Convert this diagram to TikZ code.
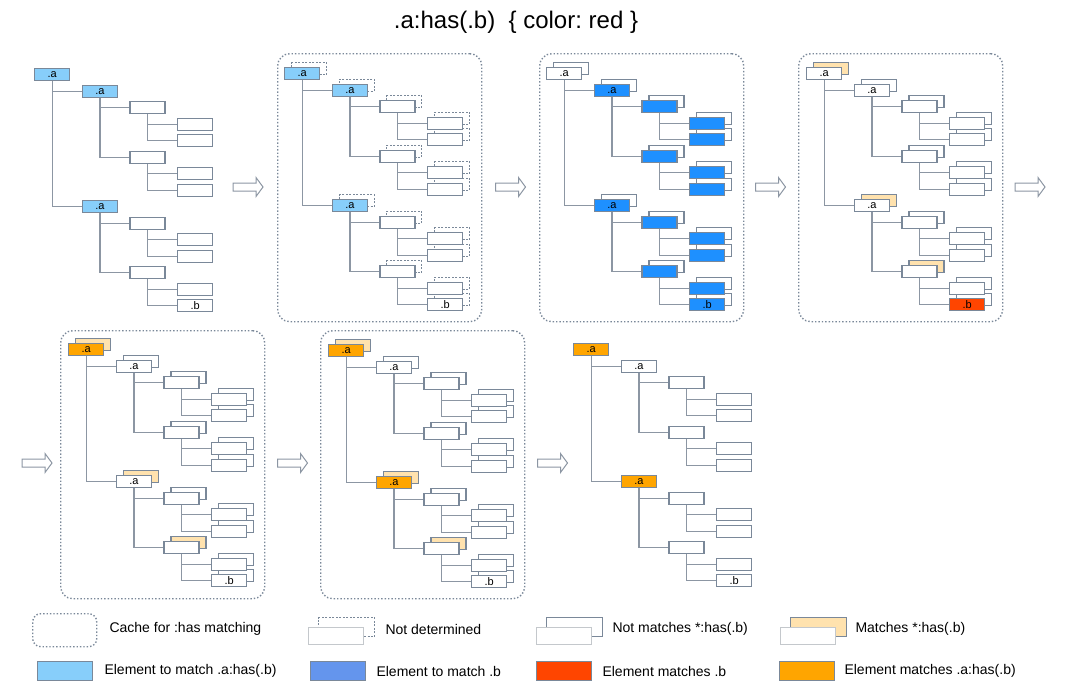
\documentclass[tikz,border=0pt]{standalone}
\usepackage{fontspec}
\setmainfont{Liberation Sans}
\frenchspacing

\definecolor{boxline}{HTML}{7A8899}
\definecolor{lightline}{HTML}{C4C8CC}
\definecolor{linkgray}{HTML}{8C96A3}
\definecolor{skyfill}{HTML}{87CEFA}
\definecolor{bluefill}{HTML}{1E90FF}
\definecolor{cornfill}{HTML}{6495ED}
\definecolor{redfill}{HTML}{FF4500}
\definecolor{orangefill}{HTML}{FFA500}
\definecolor{tanfill}{HTML}{FFE2AE}

\tikzset{
  box/.style={draw=boxline, fill=white, line width=1.3pt, minimum width=35pt, minimum height=12pt,
    inner sep=0pt, anchor=north west, font=\fontsize{11}{11}\selectfont},
  shade/.style={box, fill=white},
  undet/.style={dash pattern=on 2pt off 1.5pt, line width=1pt},
  match/.style={fill=tanfill},
  tomatch/.style={fill=skyfill},
  hitb/.style={fill=redfill},
  hita/.style={fill=orangefill},
  link/.style={draw=linkgray, line width=1.3pt},
  cache/.style={draw=boxline, dotted, line width=1.4pt, rounded corners=12pt,
    minimum width=204pt, minimum height=268pt, anchor=north west},
  flow/.pic={\draw[draw=linkgray, fill=white, line width=1pt, line join=miter]
    (-15,-4) -- (8,-4) -- (8,-9.5) -- (15,0) -- (8,9.5) -- (8,4) -- (-15,4) -- cycle;},
  legtext/.style={anchor=west, font=\fontsize{14}{14}\selectfont},
}

% row/level/parent/text
\newcommand{\treelist}{0/0/0/.a,1/1/0/.a,2/2/1/{},3/3/2/{},4/3/2/{},5/2/1/{},6/3/5/{},7/3/5/{},8/1/0/.a,9/2/8/{},10/3/9/{},11/3/9/{},12/2/8/{},13/3/12/{},14/3/12/.b}

% #1 node prefix, #2 = 1 with shadow boxes
\newcommand{\drawtree}[2]{%
  \ifnum#2=1
    \foreach \rw/\lv/\pa/\txt in \treelist
      \node[shade, s\rw/.try] (#1s\rw) at ({\lv*47.7+7},{\rw*16.5-5}) {};
  \fi
  \foreach \rw/\lv/\pa/\txt in \treelist
    \node[box, b\rw/.try] (#1\rw) at ({\lv*47.7},{\rw*16.5}) {\txt};
  \foreach \rw/\lv/\pa/\txt in \treelist
    {\ifnum\rw>0 \draw[link] (#1\pa.south) |- (#1\rw.west);\fi}
}

\begin{document}
\begin{tikzpicture}[x=1pt, y=-1pt]
  \useasboundingbox (0,0) rectangle (1065,694);

  \node[font=\fontsize{24}{24}\selectfont] (title) at (516,22) {.a:has(.b)\ \ \{ color: red \}};

  % top row
  \begin{scope}[shift={(34,68)}, b0/.style=tomatch, b1/.style=tomatch, b8/.style=tomatch]
    \drawtree{pa}{0}
  \end{scope}

  \begin{scope}[shift={(284,67)}, shade/.append style=undet,
      b0/.style=tomatch, b1/.style=tomatch, b8/.style=tomatch]
    \node[cache] (cb) at (-7,-14) {};
    \drawtree{pb}{1}
  \end{scope}

  \begin{scope}[shift={(546,67)}, box/.append style={fill=bluefill}, b0/.style={fill=white}]
    \node[cache] (cc) at (-7,-14) {};
    \drawtree{pc}{1}
  \end{scope}

  \begin{scope}[shift={(806,67)}, b14/.style=hitb,
      s0/.style=match, s8/.style=match, s12/.style=match]
    \node[cache] (cd) at (-8,-14) {};
    \drawtree{pd}{1}
  \end{scope}

  % bottom row
  \begin{scope}[shift={(68,343)}, b0/.style=hita,
      s0/.style=match, s8/.style=match, s12/.style=match]
    \node[cache] (ce) at (-8,-13) {};
    \drawtree{pe}{1}
  \end{scope}

  \begin{scope}[shift={(328,344)}, b0/.style=hita, b8/.style=hita,
      s0/.style=match, s8/.style=match, s12/.style=match]
    \node[cache] (cf) at (-8,-14) {};
    \drawtree{pf}{1}
  \end{scope}

  \begin{scope}[shift={(573,343)}, b0/.style=hita, b8/.style=hita]
    \drawtree{pg}{0}
  \end{scope}

  % steps
  \pic (fl1) at (248,187) {flow};
  \pic (fl2) at (510.5,187) {flow};
  \pic (fl3) at (770.5,187) {flow};
  \pic (fl4) at (1030,187) {flow};
  \pic (fl5) at (37,463) {flow};
  \pic (fl6) at (292.5,463) {flow};
  \pic (fl7) at (552.5,463) {flow};

  % legend
  \node[cache, minimum width=64pt, minimum height=33pt, rounded corners=8pt] (lg1) at (32,613) {};
  \node[legtext] (lt1) at (106,629) {Cache for :has matching};

  \node[box, undet, minimum width=56pt, minimum height=19pt] (lg2s) at (318,617) {};
  \node[box, draw=lightline, minimum width=55pt, minimum height=17pt] (lg2) at (308,627) {};
  \node[legtext] (lt2) at (382,629) {Not determined};

  \node[box, minimum width=56pt, minimum height=19pt] (lg3s) at (546,617) {};
  \node[box, draw=lightline, minimum width=55pt, minimum height=17pt] (lg3) at (536,627) {};
  \node[legtext] (lt3) at (609,629) {Not matches *:has(.b)};

  \node[box, match, minimum width=56pt, minimum height=19pt] (lg4s) at (790,617) {};
  \node[box, draw=lightline, minimum width=55pt, minimum height=17pt] (lg4) at (780,627) {};
  \node[legtext] (lt4) at (852,629) {Matches *:has(.b)};

  \node[box, tomatch, minimum width=55pt, minimum height=19pt] (lg5) at (37,661) {};
  \node[legtext] (lt5) at (101,671) {Element to match .a:has(.b)};
  \node[box, fill=cornfill, minimum width=55pt, minimum height=19pt] (lg6) at (310,661) {};
  \node[legtext] (lt6) at (373,671) {Element to match .b};
  \node[box, hitb, minimum width=55pt, minimum height=19pt] (lg7) at (536,661) {};
  \node[legtext] (lt7) at (599,671) {Element matches .b};
  \node[box, hita, minimum width=55pt, minimum height=19pt] (lg8) at (779,661) {};
  \node[legtext] (lt8) at (841,671) {Element matches .a:has(.b)};
\end{tikzpicture}
\end{document}
